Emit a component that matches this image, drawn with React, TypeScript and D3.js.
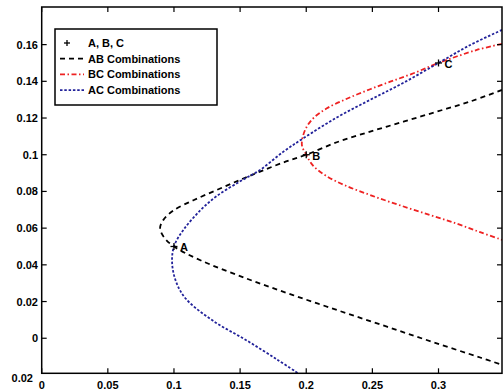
import * as d3 from "d3";

// Portfolio combinations: x = risk (std dev), y = expected return
const ABC_POINTS: [string, number, number][] = [
  ["A", 0.1, 0.05],
  ["B", 0.2, 0.1],
  ["C", 0.3, 0.15],
];

const AB_CURVE: [number, number][] = [
  [0.348, 0.1353], [0.324, 0.129], [0.2988, 0.1235], [0.2735, 0.118], [0.2483, 0.1126],
  [0.2231, 0.1068], [0.2, 0.1], [0.1828, 0.0958], [0.1651, 0.0908], [0.15, 0.0863],
  [0.1324, 0.0808], [0.1147, 0.0752], [0.0995, 0.0696], [0.092, 0.0645], [0.0895, 0.06],
  [0.0925, 0.055], [0.1, 0.05], [0.12, 0.0425], [0.155, 0.0325], [0.19, 0.0235],
  [0.2256, 0.0148], [0.261, 0.0063], [0.2962, -0.0022], [0.3315, -0.0105], [0.348, -0.0145],
];

const BC_CURVE: [number, number][] = [
  [0.348, 0.1604], [0.329, 0.1571], [0.3, 0.15], [0.2811, 0.1444], [0.2635, 0.1398],
  [0.2483, 0.1357], [0.2307, 0.1305], [0.2156, 0.1253], [0.2054, 0.1199], [0.1992, 0.1136],
  [0.1967, 0.1054], [0.2, 0.1], [0.205, 0.0942], [0.215, 0.0885], [0.23, 0.0831],
  [0.25, 0.0776], [0.271, 0.0724], [0.2937, 0.0671], [0.3139, 0.0624], [0.3315, 0.0578],
  [0.348, 0.0536],
];

const AC_CURVE: [number, number][] = [
  [0.348, 0.168], [0.324, 0.1598], [0.3, 0.15], [0.2735, 0.1392], [0.2483, 0.1299],
  [0.2231, 0.1203], [0.1979, 0.109], [0.1828, 0.1017], [0.1651, 0.0917], [0.15, 0.0855],
  [0.1324, 0.0775], [0.1197, 0.0695], [0.1071, 0.059], [0.1, 0.05], [0.0986, 0.041],
  [0.1015, 0.031], [0.109, 0.0215], [0.1296, 0.0095], [0.155, -0.0012], [0.178, -0.0116],
  [0.1935, -0.0189],
];

const X_TICKS = [0, 0.05, 0.1, 0.15, 0.2, 0.25, 0.3];
const Y_TICKS = [0, 0.02, 0.04, 0.06, 0.08, 0.1, 0.12, 0.14, 0.16];

const LEGEND = [
  { label: "A, B, C", kind: "marker" },
  { label: "AB Combinations", kind: "line", color: "#000000", dash: "5,4" },
  { label: "BC Combinations", kind: "line", color: "#ee2222", dash: "5,2.5,1.5,2.5" },
  { label: "AC Combinations", kind: "line", color: "#22229a", dash: "2.5,1.8" },
];

const W = 503;
const H = 390;
const FONT = "'Liberation Sans', Arial, Helvetica, sans-serif";

export default function App() {
  const m = { left: 41.7, right: 502, top: 7, bottom: 373.3 };
  const x = d3.scaleLinear().domain([0, 0.348]).range([m.left, m.right]);
  const y = d3.scaleLinear().domain([-0.0191, 0.1805]).range([m.bottom, m.top]);

  const line = d3.line<[number, number]>()
    .x(d => x(d[0]))
    .y(d => y(d[1]))
    .curve(d3.curveCatmullRom.alpha(0.5));

  const curves = [
    { data: AB_CURVE, ...LEGEND[1] },
    { data: BC_CURVE, ...LEGEND[2] },
    { data: AC_CURVE, ...LEGEND[3] },
  ];

  const tick = 5;
  const plus = (cx: number, cy: number, s = 3.5) => (
    <g stroke="#000" strokeWidth={1.3}>
      <line x1={cx - s} x2={cx + s} y1={cy} y2={cy} />
      <line x1={cx} x2={cx} y1={cy - s} y2={cy + s} />
    </g>
  );

  return (
    <svg width={W} height={H} style={{ position: "absolute", left: 0, top: 0, background: "#fff" }}
      fontFamily={FONT} fontWeight="bold" fontSize={11}>
      <defs>
        <clipPath id="plot-clip">
          <rect x={m.left} y={m.top} width={m.right - m.left} height={m.bottom - m.top} />
        </clipPath>
      </defs>
      <rect width={W} height={H} fill="#fff" />

      {/* curves */}
      <g clipPath="url(#plot-clip)">
        {curves.map((c, i) => (
          <path key={i} d={line(c.data) ?? ""} fill="none" stroke={c.color}
            strokeWidth={1.8} strokeDasharray={c.dash} />
        ))}
      </g>

      {/* A, B, C markers */}
      {ABC_POINTS.map(([lab, px, py]) => (
        <g key={lab}>
          {plus(x(px), y(py))}
          <text x={x(px) + 6} y={y(py) + 5} fill="#000">{lab}</text>
        </g>
      ))}

      {/* frame */}
      <rect x={m.left} y={m.top} width={m.right - m.left} height={m.bottom - m.top}
        fill="none" stroke="#000" strokeWidth={1.5} />

      {/* x ticks */}
      {X_TICKS.map(t => (
        <g key={t}>
          <line x1={x(t)} x2={x(t)} y1={m.bottom} y2={m.bottom - tick} stroke="#000" strokeWidth={1.2} />
          <line x1={x(t)} x2={x(t)} y1={m.top} y2={m.top + tick} stroke="#000" strokeWidth={1.2} />
          <text x={x(t)} y={389} textAnchor="middle" fill="#000">{String(t)}</text>
        </g>
      ))}

      {/* y ticks */}
      {Y_TICKS.map(t => (
        <g key={t}>
          <line x1={m.left} x2={m.left + tick} y1={y(t)} y2={y(t)} stroke="#000" strokeWidth={1.2} />
          <line x1={m.right} x2={m.right - tick} y1={y(t)} y2={y(t)} stroke="#000" strokeWidth={1.2} />
          <text x={38} y={y(t) + 4} textAnchor="end" fill="#000">{String(t)}</text>
        </g>
      ))}
      <text x={33} y={y(-0.02) + 7} textAnchor="end" fill="#000">0.02</text>

      {/* legend */}
      <g>
        <rect x={55} y={29} width={162} height={76} fill="#fff" stroke="#000" strokeWidth={1.5} />
        {LEGEND.map((l, i) => {
          const cy = 43 + i * 15.7;
          return (
            <g key={l.label}>
              {l.kind === "marker"
                ? plus(67, cy, 3)
                : <line x1={60} x2={84} y1={cy} y2={cy} stroke={l.color} strokeWidth={1.8}
                    strokeDasharray={l.dash} />}
              <text x={88} y={cy + 4} fill="#000">{l.label}</text>
            </g>
          );
        })}
      </g>
    </svg>
  );
}
